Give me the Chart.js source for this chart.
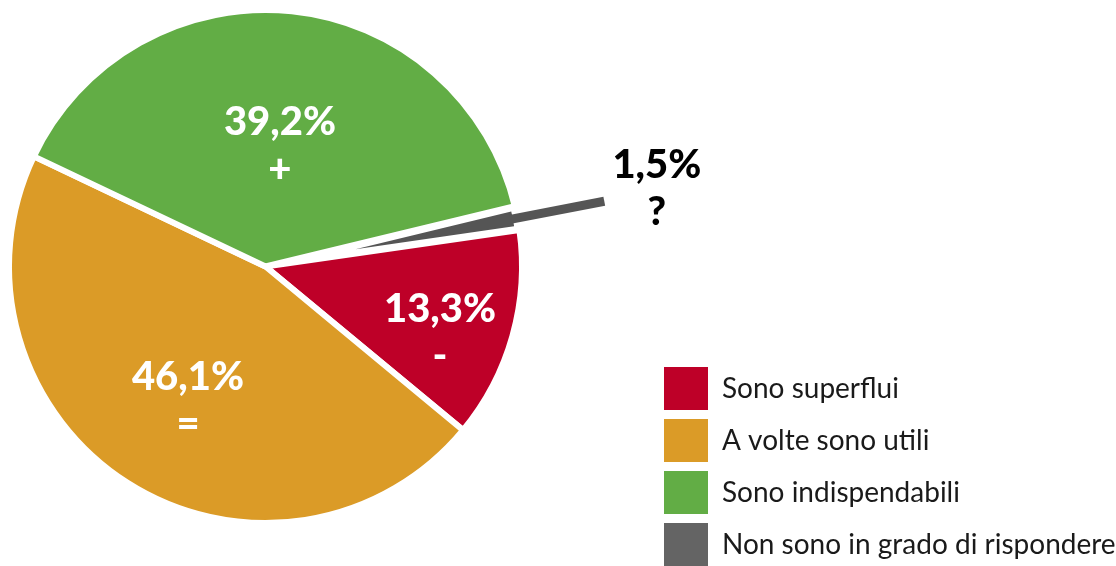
<!DOCTYPE html>
<html lang="it">
<head>
<meta charset="utf-8">
<title>Grafico a torta</title>
<script src="https://cdn.jsdelivr.net/npm/chart.js@4.4.1/dist/chart.umd.min.js"></script>
<style>
  html, body { margin: 0; padding: 0; background: #fff; overflow: hidden; }
  /* il canvas sborda un po' per centrare la torta e mettere la legenda in basso */
  #wrap { position: absolute; left: -124px; top: -42px; width: 1300px; height: 617px; }
</style>
</head>
<body>
<div id="wrap"><canvas id="grafico"></canvas></div>
<script>
// dati
const categorie = ['Sono superflui', 'A volte sono utili', 'Sono indispendabili', 'Non sono in grado di rispondere'];
const percentuali = [13.3, 46.1, 39.2, 1.5];
const simboli = ['-', '=', '+', '?'];

const coloriFette = ['#be0028', '#db9b27', '#62ad45', '#555555'];
const coloriLegenda = ['#be0028', '#db9b27', '#62ad45', '#646464'];
const coloriEtichette = ['#ffffff', '#ffffff', '#ffffff', '#000000'];
// posizione etichette: frazione del raggio e scarto angolare (gradi)
const distEtichette = [0.727, 0.602, 0.475, 1.556];
const scartoEtichette = [4.9, -2.4, 0.9, -0.4];

// fetta grigia: spostata verso l'esterno, più corta, con un'asta
const esplosione = 0.357;
const lunghezzaFetta = 0.625;
const fineAsta = 1.345;

const fontLegenda = { family: 'Lato', size: 28 };
const misura = document.createElement('canvas').getContext('2d');
misura.font = fontLegenda.size + 'px ' + fontLegenda.family;
const testoMax = Math.max(...categorie.map(t => misura.measureText(t).width));
// legenda larga quanto serve, col bordo sinistro a x=779 del canvas
const padDestra = Math.max(1300 - 779 - (testoMax + 44 + fontLegenda.size / 2 + 19), 0);

function centro(chart) {
    const a = chart.chartArea;
    return { x: (a.left + a.right) / 2, y: (a.top + a.bottom) / 2 };
}

const fettaStaccata = {
    id: 'fettaStaccata',
    afterDatasetsUpdate(chart) {
        const meta = chart.getDatasetMeta(0);
        const arc = meta.data[3];
        const R = meta.controller.outerRadius;
        const a = (arc.startAngle + arc.endAngle) / 2;
        arc.x += Math.cos(a) * esplosione * R;
        arc.y += Math.sin(a) * esplosione * R;
        arc.outerRadius = lunghezzaFetta * R;
    },
    afterDatasetsDraw(chart) {
        const meta = chart.getDatasetMeta(0);
        const arc = meta.data[3];
        const R = meta.controller.outerRadius;
        const c = centro(chart);
        const a = (arc.startAngle + arc.endAngle) / 2;
        const r0 = esplosione + lunghezzaFetta - 0.01;
        const ctx = chart.ctx;
        ctx.save();
        ctx.strokeStyle = coloriFette[3];
        ctx.lineWidth = 9;
        ctx.beginPath();
        ctx.moveTo(c.x + Math.cos(a) * r0 * R, c.y + Math.sin(a) * r0 * R);
        ctx.lineTo(c.x + Math.cos(a) * fineAsta * R, c.y + Math.sin(a) * fineAsta * R);
        ctx.stroke();
        ctx.restore();
    }
};

const etichette = {
    id: 'etichette',
    afterDatasetsDraw(chart) {
        const meta = chart.getDatasetMeta(0);
        const R = meta.controller.outerRadius;
        const c = centro(chart);
        const ctx = chart.ctx;
        ctx.save();
        ctx.textAlign = 'center';
        ctx.textBaseline = 'middle';
        ctx.font = '900 40px Lato';
        meta.data.forEach((arc, i) => {
            const a = (arc.startAngle + arc.endAngle) / 2 + scartoEtichette[i] * Math.PI / 180;
            const x = c.x + Math.cos(a) * distEtichette[i] * R;
            const y = c.y + Math.sin(a) * distEtichette[i] * R;
            ctx.fillStyle = coloriEtichette[i];
            ctx.fillText(percentuali[i].toFixed(1).replace('.', ',') + '%', x, y - 23);
            ctx.fillText(simboli[i], x, y + 24);
        });
        ctx.restore();
    }
};

new Chart(document.getElementById('grafico'), {
    type: 'pie',
    data: {
        labels: categorie,
        datasets: [{
            data: percentuali,
            backgroundColor: coloriFette,
            borderColor: '#ffffff',
            borderWidth: [6, 6, 6, 0],
            clip: false
        }]
    },
    options: {
        responsive: true,
        maintainAspectRatio: false,
        animation: false,
        events: [],
        rotation: 81.8,
        radius: 256.5,
        layout: { padding: { right: padDestra } },
        plugins: {
            tooltip: { enabled: false },
            legend: {
                position: 'right',
                align: 'end',
                labels: {
                    boxWidth: 44,
                    boxHeight: 43,
                    padding: 9,
                    color: '#1a1a1a',
                    font: fontLegenda,
                    generateLabels: () => categorie.map((text, i) => ({
                        text,
                        fillStyle: coloriLegenda[i],
                        strokeStyle: coloriLegenda[i],
                        lineWidth: 0,
                        hidden: false,
                        index: i,
                        fontColor: '#1a1a1a'
                    }))
                }
            }
        }
    },
    plugins: [fettaStaccata, etichette]
});
</script>
</body>
</html>
